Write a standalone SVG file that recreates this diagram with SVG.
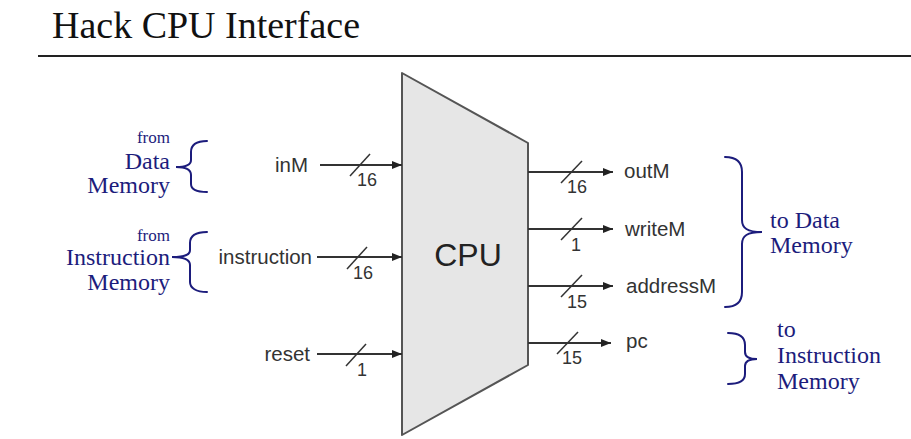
<svg xmlns="http://www.w3.org/2000/svg" width="911" height="439" viewBox="0 0 911 439">
  <defs>
    <marker id="arrow" viewBox="0 0 10 8" refX="10" refY="4" markerWidth="10" markerHeight="8" markerUnits="userSpaceOnUse" orient="auto">
      <path d="M0,0 L10,4 L0,8 Z" fill="#222"/>
    </marker>
    <style>
      .title { font-family: "Liberation Serif", "Times New Roman", serif; font-size: 37px; fill: #111; }
      .note { font-family: "Liberation Serif", "Times New Roman", serif; font-size: 24px; fill: #1c1c7c; }
      .note-small { font-family: "Liberation Serif", "Times New Roman", serif; font-size: 17px; fill: #1c1c7c; }
      .pin { font-family: "Liberation Sans", Arial, sans-serif; font-size: 20.5px; fill: #333; }
      .width { font-family: "Liberation Sans", Arial, sans-serif; font-size: 18px; fill: #333; }
      .wire { stroke: #333; stroke-width: 1.8; fill: none; }
      .bus { stroke: #333; stroke-width: 1.5; fill: none; }
      .brace { stroke: #1c1c7c; stroke-width: 2; fill: none; stroke-linecap: round; }
      .chip { fill: #e6e6e6; stroke: #555; stroke-width: 2; stroke-linejoin: round; }
      .chip-label { font-family: "Liberation Sans", Arial, sans-serif; font-size: 32px; fill: #222; }
    </style>
  </defs>

  <rect width="911" height="439" fill="#ffffff"/>

  <!-- Heading -->
  <g id="heading">
    <text class="title" x="52" y="38" textLength="308" lengthAdjust="spacingAndGlyphs">Hack CPU Interface</text>
    <line x1="38" y1="56" x2="911" y2="56" stroke="#222" stroke-width="2"/>
  </g>

  <!-- CPU block -->
  <g id="cpu">
    <polygon class="chip" points="402,73 528,143 528,365 402,435"/>
    <text class="chip-label" x="468" y="266" text-anchor="middle">CPU</text>
  </g>

  <!-- Input pins -->
  <g id="pin-inM">
    <text class="pin" x="308" y="172" text-anchor="end">inM</text>
  </g>
  <g id="pin-instruction">
    <text class="pin" x="312" y="264" text-anchor="end">instruction</text>
  </g>
  <g id="pin-reset">
    <text class="pin" x="310" y="361" text-anchor="end">reset</text>
  </g>

  <!-- Output pins -->
  <g id="pin-outM">
    <text class="pin" x="624" y="178">outM</text>
  </g>
  <g id="pin-writeM">
    <text class="pin" x="625" y="236">writeM</text>
  </g>
  <g id="pin-addressM">
    <text class="pin" x="626" y="293">addressM</text>
  </g>
  <g id="pin-pc">
    <text class="pin" x="626" y="348">pc</text>
  </g>

  <!-- Memory annotations -->
  <g id="from-data-memory">
    <text class="note-small" x="170" y="143" text-anchor="end">from</text>
    <text class="note" x="170" y="169" text-anchor="end">Data</text>
    <text class="note" x="170" y="193" text-anchor="end">Memory</text>
    <path class="brace" d="M207,141 C196,141 191,145 191,152 L191,160 C191,165 186,167 176,167 C186,167 191,170 191,175 L191,184 C191,189 196,192 207,192"/>
  </g>
  <g id="from-instruction-memory">
    <text class="note-small" x="170" y="241" text-anchor="end">from</text>
    <text class="note" x="170" y="265" text-anchor="end">Instruction</text>
    <text class="note" x="170" y="290" text-anchor="end">Memory</text>
    <path class="brace" d="M207,232 C196,232 190,236 190,243 L190,250 C190,255 185,257 172,257 C185,257 190,260 190,265 L190,282 C190,288 196,292 207,292"/>
  </g>
  <g id="to-data-memory">
    <text class="note" x="770" y="228">to Data</text>
    <text class="note" x="770" y="253">Memory</text>
    <path class="brace" d="M725,157 C736,157 742,162 742,172 L742,220 C742,228 747,232 762,232 C747,232 742,236 742,244 L742,292 C742,302 736,307 725,307"/>
  </g>
  <g id="to-instruction-memory">
    <text class="note" x="777" y="337">to</text>
    <text class="note" x="777" y="363">Instruction</text>
    <text class="note" x="777" y="389">Memory</text>
    <path class="brace" d="M728,333 C740,333 745,337 745,345 L745,352 C745,357 749,359 757,359 C749,359 745,361 745,366 L745,374 C745,380 740,384 728,384"/>
  </g>

  <!-- Connectors: wires with bus-width slashes -->
  <g id="connectors">
    <line class="wire" x1="320" y1="165" x2="402" y2="165" marker-end="url(#arrow)"/>
    <line class="bus" x1="350" y1="176" x2="370" y2="154"/>
    <text class="width" x="357" y="186">16</text>

    <line class="wire" x1="317" y1="257" x2="402" y2="257" marker-end="url(#arrow)"/>
    <line class="bus" x1="347" y1="269" x2="367" y2="247"/>
    <text class="width" x="353" y="279">16</text>

    <line class="wire" x1="317" y1="354" x2="402" y2="354" marker-end="url(#arrow)"/>
    <line class="bus" x1="346" y1="366" x2="366" y2="344"/>
    <text class="width" x="357" y="376">1</text>

    <line class="wire" x1="528" y1="172" x2="613" y2="172" marker-end="url(#arrow)"/>
    <line class="bus" x1="561" y1="183" x2="582" y2="161"/>
    <text class="width" x="567" y="193">16</text>

    <line class="wire" x1="528" y1="229" x2="613" y2="229" marker-end="url(#arrow)"/>
    <line class="bus" x1="561" y1="240" x2="582" y2="218"/>
    <text class="width" x="571" y="251">1</text>

    <line class="wire" x1="528" y1="286" x2="613" y2="286" marker-end="url(#arrow)"/>
    <line class="bus" x1="561" y1="297" x2="582" y2="275"/>
    <text class="width" x="567" y="308">15</text>

    <line class="wire" x1="528" y1="343" x2="611" y2="343" marker-end="url(#arrow)"/>
    <line class="bus" x1="557" y1="354" x2="578" y2="332"/>
    <text class="width" x="562" y="364">15</text>
  </g>
</svg>
